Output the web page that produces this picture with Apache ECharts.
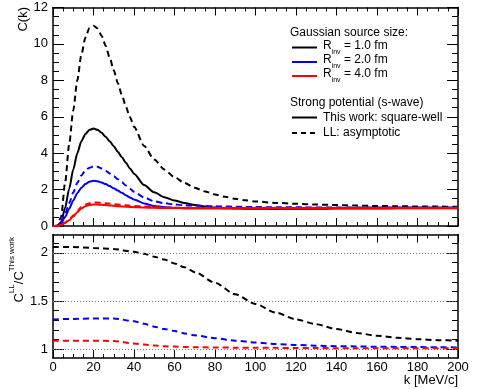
<!DOCTYPE html>
<html>
<head>
<meta charset="utf-8">
<script src="https://cdn.jsdelivr.net/npm/echarts@6/dist/echarts.min.js"></script>
<style>
  html, body { margin: 0; padding: 0; background: #fff; }
  #chart { width: 478px; height: 389px; }
</style>
</head>
<body>
<div id="chart"></div>
<script>
// k grid (MeV/c) for the correlation functions (top panel)
var kTop = [0, 2, 4, 6, 8, 10, 12, 14, 16, 18, 20, 22, 24, 26, 28, 30, 32, 34, 36, 38, 40,
            45, 50, 55, 60, 65, 70, 75, 80, 85, 90, 95, 100,
            110, 120, 130, 140, 150, 160, 170, 180, 190, 200];

// C(k), square-well (this work) and LL asymptotic, for R_inv = 1, 2, 4 fm
var sw1 = [0, 0, 0.2, 1.0, 2.05, 3.1, 4.0, 4.65, 5.05, 5.28, 5.35, 5.28, 5.12, 4.9, 4.65, 4.38, 4.08, 3.78, 3.47, 3.16, 2.87,
           2.25, 1.85, 1.58, 1.4, 1.26, 1.15, 1.07, 1.01, 0.98, 0.96, 0.95, 0.945,
           0.94, 0.945, 0.95, 0.955, 0.96, 0.965, 0.97, 0.975, 0.975, 0.98];
var ll1 = [0, 0.02, 0.5, 2.4, 4.5, 6.35, 8.0, 9.4, 10.35, 10.88, 11.0, 10.85, 10.45, 9.9, 9.25, 8.55, 7.85, 7.2, 6.55, 5.98, 5.45,
           4.4, 3.65, 3.1, 2.68, 2.36, 2.1, 1.9, 1.73, 1.6, 1.49, 1.41, 1.35,
           1.27, 1.22, 1.18, 1.15, 1.12, 1.1, 1.085, 1.075, 1.065, 1.06];
var sw2 = [0, 0, 0.15, 0.5, 0.95, 1.4, 1.8, 2.1, 2.31, 2.43, 2.48, 2.46, 2.39, 2.3, 2.19, 2.07, 1.95, 1.82, 1.69, 1.57, 1.46,
           1.24, 1.1, 1.03, 0.995, 0.98, 0.975, 0.97, 0.97, 0.97, 0.97, 0.972, 0.975,
           0.978, 0.98, 0.982, 0.984, 0.985, 0.986, 0.987, 0.988, 0.989, 0.99];
var ll2 = [0, 0, 0.2, 0.66, 1.25, 1.84, 2.37, 2.77, 3.05, 3.2, 3.27, 3.25, 3.16, 3.04, 2.89, 2.73, 2.57, 2.4, 2.22, 2.05, 1.88,
           1.57, 1.36, 1.25, 1.18, 1.14, 1.12, 1.1, 1.08, 1.07, 1.06, 1.05, 1.04,
           1.03, 1.025, 1.02, 1.015, 1.012, 1.01, 1.01, 1.01, 1.01, 1.01];
var sw4 = [0, 0, 0.05, 0.17, 0.32, 0.52, 0.76, 0.96, 1.08, 1.15, 1.18, 1.18, 1.165, 1.15, 1.13, 1.11, 1.09, 1.075, 1.06, 1.045, 1.035,
           1.015, 1.0, 0.99, 0.985, 0.98, 0.98, 0.98, 0.98, 0.98, 0.98, 0.98, 0.98,
           0.982, 0.984, 0.985, 0.986, 0.987, 0.988, 0.989, 0.99, 0.99, 0.99];
var ll4 = [0, 0, 0.055, 0.19, 0.35, 0.57, 0.83, 1.05, 1.18, 1.25, 1.29, 1.29, 1.27, 1.25, 1.23, 1.2, 1.18, 1.16, 1.14, 1.12, 1.1,
           1.065, 1.04, 1.02, 1.01, 1.005, 1.0, 1.0, 1.0, 1.0, 1.0, 1.0, 1.0,
           1.0, 1.0, 1.0, 1.0, 1.0, 1.0, 1.0, 1.0, 1.0, 1.0];

// ratio C^LL / C^this work (bottom panel)
var kRatio = [0, 10, 20, 30, 40, 45, 50, 55, 60, 65, 70, 80, 90, 100, 110, 120, 130, 140, 150, 160, 170, 180, 190, 200];
var ratio1 = [2.06, 2.06, 2.05, 2.04, 2.01, 1.99, 1.96, 1.93, 1.89, 1.85, 1.8, 1.69, 1.57, 1.47, 1.38, 1.31, 1.26, 1.21, 1.17, 1.14, 1.12, 1.105, 1.095, 1.09];
var ratio2 = [1.31, 1.315, 1.32, 1.32, 1.29, 1.265, 1.235, 1.21, 1.19, 1.165, 1.145, 1.115, 1.09, 1.07, 1.055, 1.045, 1.038, 1.033, 1.03, 1.027, 1.025, 1.023, 1.021, 1.02];
var ratio4 = [1.09, 1.09, 1.09, 1.085, 1.06, 1.05, 1.04, 1.032, 1.028, 1.025, 1.022, 1.019, 1.017, 1.016, 1.015, 1.014, 1.013, 1.012, 1.012, 1.011, 1.011, 1.01, 1.01, 1.01];

// tick values of the ratio axis
var ratioMajor = [1, 1.5, 2];
var ratioMinor = [1.1, 1.2, 1.3, 1.4, 1.6, 1.7, 1.8, 1.9, 2.1];

var FONT = 'Liberation Sans';

function pairs(xs, ys) {
    return xs.map(function (x, i) { return [x, ys[i]]; });
}

function curve(name, xi, yi, xs, ys, color, dashed) {
    return {
        name: name,
        type: 'line',
        xAxisIndex: xi,
        yAxisIndex: yi,
        data: pairs(xs, ys),
        showSymbol: false,
        symbol: 'none',
        smooth: 0.25,
        smoothMonotone: 'x',
        animation: false,
        lineStyle: { color: color, width: 2, type: dashed ? [6, 4] : 'solid' }
    };
}

// frame axis helpers
function xAx(grid, pos, labels) {
    return {
        type: 'value', gridIndex: grid, position: pos, min: 0, max: 200, interval: 20,
        axisLine: { show: true, onZero: false, lineStyle: { color: '#000', width: 1.5 } },
        axisTick: { show: true, inside: true, length: 8, lineStyle: { color: '#000' } },
        minorTick: { show: true, splitNumber: 4, length: 4, lineStyle: { color: '#000' } },
        axisLabel: { show: labels, color: '#000', fontSize: 13, fontFamily: FONT, margin: 3 },
        splitLine: { show: false }
    };
}

function yAxTop(pos, labels) {
    return {
        type: 'value', gridIndex: 0, position: pos, min: 0, max: 12, interval: 2,
        axisLine: { show: true, onZero: false, lineStyle: { color: '#000', width: 1.5 } },
        axisTick: { show: true, inside: true, length: 11, lineStyle: { color: '#000' } },
        minorTick: { show: true, splitNumber: 4, length: 6, lineStyle: { color: '#000' } },
        axisLabel: { show: labels, color: '#000', fontSize: 13, fontFamily: FONT, margin: 5 },
        splitLine: { show: false }
    };
}

function yAxRatio(pos, ticks, len, labels, line) {
    return {
        type: 'value', gridIndex: 1, position: pos, min: 0.91, max: 2.19,
        axisLine: { show: line, onZero: false, lineStyle: { color: '#000', width: 1.5 } },
        axisTick: { show: true, inside: true, length: len, customValues: ticks, lineStyle: { color: '#000' } },
        axisLabel: { show: labels, color: '#000', fontSize: 13, fontFamily: FONT, margin: 5, customValues: ratioMajor },
        splitLine: { show: false }
    };
}

var myChart = echarts.init(document.getElementById('chart'));

var rinvRich = {
    m: { fontSize: 12, fontFamily: FONT, fill: '#000', lineHeight: 16, verticalAlign: 'top' },
    s: { fontSize: 7, fontFamily: FONT, fill: '#000', lineHeight: 9, verticalAlign: 'bottom' }
};

var option = {
    backgroundColor: '#fff',
    animation: false,
    grid: [
        { left: 53, right: 20, top: 7.5, height: 218.5 },
        { left: 53, right: 20, top: 234.5, height: 123.5 }
    ],
    xAxis: [xAx(0, 'bottom', false), xAx(0, 'top', false), xAx(1, 'bottom', true), xAx(1, 'top', false)],
    yAxis: [
        yAxTop('left', true),
        yAxTop('right', false),
        yAxRatio('left', ratioMajor, 11, true, true),
        yAxRatio('left', ratioMinor, 6, false, false),
        yAxRatio('right', ratioMajor, 11, false, true),
        yAxRatio('right', ratioMinor, 6, false, false)
    ],
    series: [
        curve('LL R1', 0, 0, kTop, ll1, '#000', true),
        curve('SW R1', 0, 0, kTop, sw1, '#000', false),
        curve('LL R2', 0, 0, kTop, ll2, '#0000ff', true),
        curve('SW R2', 0, 0, kTop, sw2, '#0000ff', false),
        curve('LL R4', 0, 0, kTop, ll4, '#ff0000', true),
        curve('SW R4', 0, 0, kTop, sw4, '#ff0000', false),
        Object.assign(curve('ratio R1', 2, 2, kRatio, ratio1, '#000', true), {
            markLine: {
                silent: true, symbol: 'none', animation: false,
                label: { show: false },
                lineStyle: { color: '#777', width: 1, type: [1, 2] },
                data: ratioMajor.map(function (v) { return { yAxis: v }; })
            }
        }),
        curve('ratio R2', 2, 2, kRatio, ratio2, '#0000ff', true),
        curve('ratio R4', 2, 2, kRatio, ratio4, '#ff0000', true)
    ],
    graphic: [
        // axis titles
        { type: 'text', x: 23, y: 7, rotation: Math.PI / 2,
          style: { text: 'C(k)', fill: '#000', fontSize: 13, fontFamily: FONT, textAlign: 'right', textVerticalAlign: 'middle' } },
        { type: 'text', x: 17, y: 237, rotation: Math.PI / 2,
          style: {
              text: '{m|C}{s|LL}{m|/C}{s|This work}', textAlign: 'right', textVerticalAlign: 'middle',
              rich: {
                  m: { fontSize: 13, fontFamily: FONT, fill: '#000', lineHeight: 18, verticalAlign: 'bottom' },
                  s: { fontSize: 8, fontFamily: FONT, fill: '#000', lineHeight: 10, verticalAlign: 'top' }
              }
          } },
        { type: 'text', x: 458, y: 380,
          style: { text: 'k [MeV/c]', fill: '#000', fontSize: 13, fontFamily: FONT, textAlign: 'right', textVerticalAlign: 'middle' } },

        // legend
        { type: 'text', x: 290, y: 33,
          style: { text: 'Gaussian source size:', fill: '#000', fontSize: 12, fontFamily: FONT, textVerticalAlign: 'middle' } },
        { type: 'line', shape: { x1: 292, y1: 47.5, x2: 317, y2: 47.5 }, style: { stroke: '#000', lineWidth: 2 } },
        { type: 'line', shape: { x1: 292, y1: 62, x2: 317, y2: 62 }, style: { stroke: '#0000ff', lineWidth: 2 } },
        { type: 'line', shape: { x1: 292, y1: 76, x2: 317, y2: 76 }, style: { stroke: '#ff0000', lineWidth: 2 } },
        { type: 'text', x: 323, y: 47.5, style: { text: '{m|R}{s|inv}{m| = 1.0 fm}', textVerticalAlign: 'middle', rich: rinvRich } },
        { type: 'text', x: 323, y: 62, style: { text: '{m|R}{s|inv}{m| = 2.0 fm}', textVerticalAlign: 'middle', rich: rinvRich } },
        { type: 'text', x: 323, y: 76, style: { text: '{m|R}{s|inv}{m| = 4.0 fm}', textVerticalAlign: 'middle', rich: rinvRich } },
        { type: 'text', x: 290, y: 103,
          style: { text: 'Strong potential (s-wave)', fill: '#000', fontSize: 12, fontFamily: FONT, textVerticalAlign: 'middle' } },
        { type: 'line', shape: { x1: 292, y1: 117.5, x2: 317, y2: 117.5 }, style: { stroke: '#000', lineWidth: 2 } },
        { type: 'line', shape: { x1: 292, y1: 133, x2: 317, y2: 133 }, style: { stroke: '#000', lineWidth: 2, lineDash: [5, 4] } },
        { type: 'text', x: 323, y: 117.5,
          style: { text: 'This work: square-well', fill: '#000', fontSize: 12, fontFamily: FONT, textVerticalAlign: 'middle' } },
        { type: 'text', x: 323, y: 133,
          style: { text: 'LL: asymptotic', fill: '#000', fontSize: 12, fontFamily: FONT, textVerticalAlign: 'middle' } }
    ]
};

myChart.setOption(option);
</script>
</body>
</html>
